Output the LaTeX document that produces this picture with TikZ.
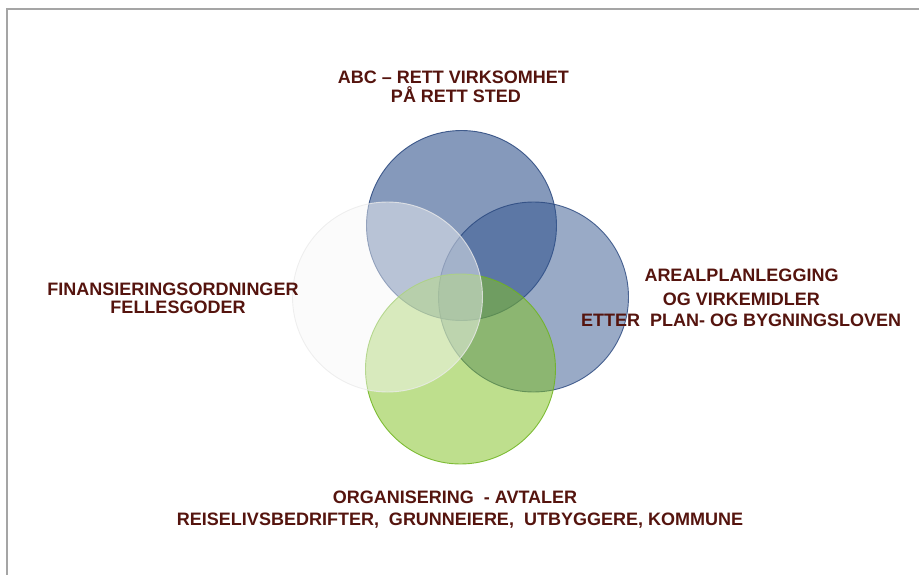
\documentclass[tikz,border=0pt]{standalone}
\usepackage{fontspec}
\setmainfont{Liberation Sans}
\definecolor{txt}{RGB}{85,20,14}
\definecolor{bluebase}{RGB}{51,85,142}
\definecolor{blueedge}{RGB}{40,70,125}
\definecolor{greenbase}{RGB}{129,193,34}
\definecolor{greenedge}{RGB}{110,180,30}
\definecolor{whitebase}{RGB}{247,247,247}
\definecolor{whiteedge}{RGB}{235,235,235}
\definecolor{framegray}{RGB}{165,165,165}
\begin{document}
\begin{tikzpicture}[x=1pt,y=-1pt,
  lbl/.style={text=txt,font=\bfseries\fontsize{18}{21}\selectfont,inner sep=0pt,anchor=base},
  ring/.style={circle,minimum size=190pt,inner sep=0pt,line width=0.9pt}]
\useasboundingbox (0,0) rectangle (919,575);
\coordinate (fb) at (7,575);
\coordinate (fc) at (7,9);
\coordinate (fr) at (919,9);
\draw[framegray,line width=1.4pt] (fb) -- (fc) -- (fr);
% circles
\node[ring,fill=bluebase,fill opacity=0.6,draw=blueedge,draw opacity=0.85] (ctop) at (461.5,225.5) {};
\node[ring,fill=bluebase,fill opacity=0.5,draw=blueedge,draw opacity=0.8] (cright) at (533.5,297) {};
\node[ring,fill=greenbase,fill opacity=0.515,draw=greenedge,draw opacity=0.85] (cbottom) at (460.5,369) {};
\node[ring,fill=whitebase,fill opacity=0.46,draw=whiteedge,draw opacity=0.8] (cleft) at (387.5,297) {};
% labels
\node[lbl] (t1) at (453.5,84) {ABC – RETT VIRKSOMHET};
\node[lbl] (t2) at (456,103) {PÅ RETT STED};
\node[lbl] (l1) at (173,295) {FINANSIERINGSORDNINGER};
\node[lbl] (l2) at (178,313.3) {FELLESGODER};
\node[lbl] (r1) at (741.5,281.7) {AREALPLANLEGGING};
\node[lbl] (r2) at (741.3,305) {OG VIRKEMIDLER};
\node[lbl] (r3) at (741.2,326.7) {ETTER~ PLAN- OG BYGNINGSLOVEN};
\node[lbl] (b1) at (455,503.3) {ORGANISERING~ - AVTALER};
\node[lbl] (b2) at (460,525) {REISELIVSBEDRIFTER,~ GRUNNEIERE,~ UTBYGGERE, KOMMUNE};
\end{tikzpicture}
\end{document}
